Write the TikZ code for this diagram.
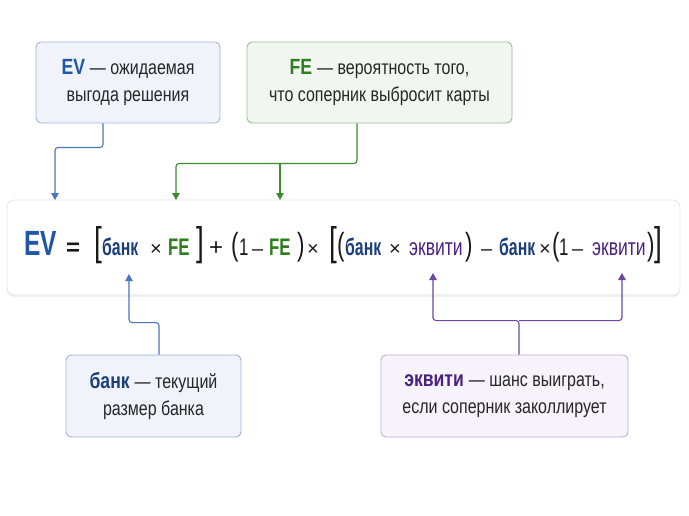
\documentclass[tikz,border=0pt]{standalone}
\usepackage{fontspec}
\setmainfont{Liberation Sans}
\newfontfamily\narrowfont[FakeStretch=0.7]{Liberation Sans}
\newfontfamily\bankfont[FakeStretch=0.66]{Liberation Sans}
\newfontfamily\eqfont[FakeStretch=0.73]{Liberation Sans}
\newfontfamily\notefont[FakeStretch=0.8]{Liberation Sans}
\usepackage{xcolor}
\usetikzlibrary{arrows.meta,positioning,calc,shadows}
\definecolor{evblue}{HTML}{1F56A8}
\definecolor{bankblue}{HTML}{1B3F7A}
\definecolor{fegreen}{HTML}{2E7D1E}
\definecolor{eqpurple}{HTML}{4A2180}
\definecolor{lineblue}{HTML}{4677BF}
\definecolor{linegreen}{HTML}{3E8A2E}
\definecolor{linepurple}{HTML}{6B45A8}
% formula pieces
\newcommand\evw{{\color{evblue}\fontsize{35}{35}\selectfont\bfseries EV}}
\newcommand\bankw{{\bankfont\color{bankblue}\bfseries банк}}
\newcommand\few{{\color{fegreen}\bfseries FE}}
\newcommand\eqw{{\eqfont\color{eqpurple}эквити}}
\newcommand\eqsign{{\fontspec{Liberation Sans}\bfseries =}}
\newcommand\plussign{{\fontspec{Liberation Sans}+}}
\newcommand\timessign{{\fontspec{Liberation Sans}\fontsize{20}{20}\selectfont ×}}
\newcommand\minussign{{\fontspec{Liberation Sans}\fontsize{20}{20}\selectfont –}}
\newcommand\lbrk{{\fontsize{40}{40}\selectfont[}}
\newcommand\rbrk{{\fontsize{40}{40}\selectfont]}}
\newcommand\lpar{{\fontsize{32}{32}\selectfont(}}
\newcommand\rpar{{\fontsize{32}{32}\selectfont)}}
\newcommand\tagfont{\notefont\fontsize{22}{27}\selectfont\bfseries}
\tikzset{
  note/.style={draw,rounded corners=5pt,line width=0.9pt,align=center,text=black!85,
    font=\notefont\fontsize{20}{27}\selectfont,inner sep=0pt},
  tok/.style={anchor=base west,inner sep=0pt,text=black!90,font=\narrowfont\fontsize{24}{24}\selectfont},
  conn/.style={-{Triangle[length=7pt,width=7.5pt]},line width=1.1pt,rounded corners=3pt},
}
\begin{document}
\begin{tikzpicture}[x=1pt,y=-1pt]
\useasboundingbox (0,0) rectangle (689,515);
% notes
\node[note,fill=lineblue!8,draw=lineblue!55,minimum width=184pt,minimum height=81pt] (evbox) at (128,82.5)
  {{\tagfont\color{evblue}EV}\hspace{5pt}— ожидаемая\\выгода решения};
\node[note,fill=linegreen!7,draw=linegreen!55,minimum width=265pt,minimum height=81pt] (febox) at (379.5,82.5)
  {{\tagfont\color{fegreen}FE}\hspace{5pt}— вероятность того,\\что соперник выбросит карты};
\node[note,fill=lineblue!8,draw=lineblue!55,minimum width=175pt,minimum height=82pt] (bankbox) at (153.5,396)
  {{\tagfont\color{bankblue}банк}\hspace{5pt}— текущий\\размер банка};
\node[note,fill=linepurple!6,draw=linepurple!45,minimum width=247pt,minimum height=82pt] (eqbox) at (504.5,396)
  {{\tagfont\color{eqpurple}эквити}\hspace{5pt}— шанс выиграть,\\если соперник заколлирует};
% formula
\node[draw=black!10,fill=white,rounded corners=7pt,line width=0.8pt,minimum width=673pt,minimum height=95pt,
  drop shadow={opacity=0.12,shadow xshift=0pt,shadow yshift=-2pt}] (formula) at (343.5,247.5) {};
\foreach \x/\t [count=\i] in {24/\evw,66/\eqsign,94/\lbrk,102/\bankw,150/\timessign,168/\few,196/\rbrk,
    209/\plussign,231/\lpar,239/1,252/\minussign,269/\few,297/\rpar,307/\timessign,
    329/\lbrk,337/\lpar,345/\bankw,389/\timessign,409/\eqw,465/\rpar,481/\minussign,
    499/\bankw,539/\timessign,552/\lpar,559/1,572/\minussign,592/\eqw,647/\rpar,654/\rbrk}
  \node[tok] (f\i) at (\x,255) {\t};
% arrow tips
\coordinate (evtip) at (55,200);
\coordinate (fetipA) at (176,200);
\coordinate (fetipB) at (280,200);
\coordinate (banktip) at (129,274);
\coordinate (eqtipA) at (433,273);
\coordinate (eqtipB) at (622,273);
% connectors
\draw[conn,lineblue] ([xshift=-25pt]evbox.south) -- ++(0,24) -| (evtip);
\draw[conn,linegreen] ([xshift=-22.5pt]febox.south) -- ++(0,40) coordinate (fejoin) -| (fetipA);
\draw[conn,linegreen] (fejoin -| fetipB) -- (fetipB);
\draw[conn,lineblue] ([xshift=5.5pt]bankbox.north) -- ++(0,-32) -| (banktip);
\draw[conn,linepurple] ([xshift=14.5pt]eqbox.north) -- ++(0,-34) coordinate (eqjoin) -| (eqtipA);
\draw[conn,linepurple] (eqjoin) -| (eqtipB);
\end{tikzpicture}
\end{document}
